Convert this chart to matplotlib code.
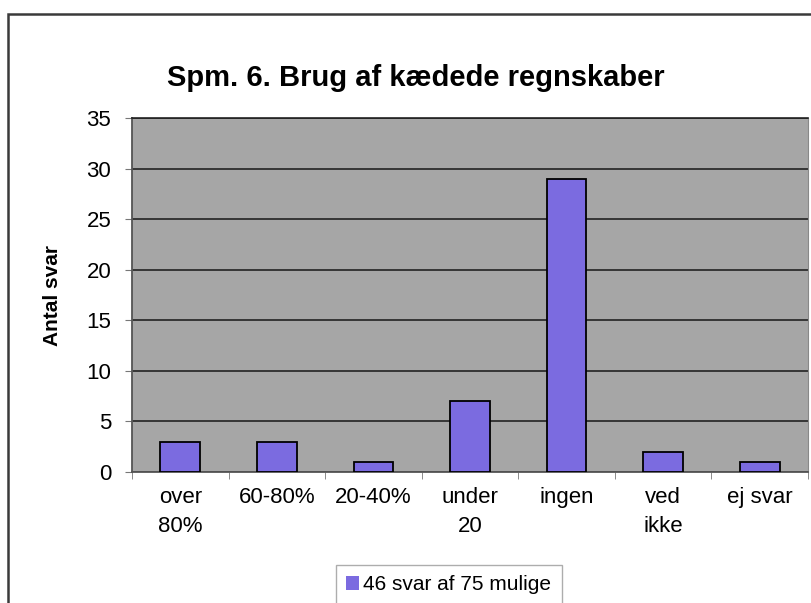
import numpy as np
import matplotlib.pyplot as plt
from matplotlib.patches import Rectangle

categories = ["over\n80%", "60-80%", "20-40%", "under\n20", "ingen", "ved\nikke", "ej svar"]
values = [3, 3, 1, 7, 29, 2, 1]
series_name = "46 svar af 75 mulige"
title = "Spm. 6. Brug af kædede regnskaber"
y_label = "Antal svar"

plt.rcParams['font.family'] = ['Liberation Sans', 'DejaVu Sans']

fig = plt.figure(figsize=(8.12, 6.03), dpi=100)
fig.patch.set_facecolor("white")

# outer chart border (cut at right/bottom like the scan)
fig.patches.append(Rectangle((8 / 812, -0.1), 1.2, 1 - 14 / 603 + 0.1,
                             transform=fig.transFigure, fill=False,
                             edgecolor="#3a3a3a", linewidth=1.8))

ax = fig.add_axes((132 / 812, 131 / 603, 676 / 812, 354 / 603))
ax.set_facecolor("#a6a6a6")

x = np.arange(len(categories))
ax.bar(x, values, width=0.41, color="#7b6be0", edgecolor="black",
       linewidth=1.3, label=series_name, zorder=3)

ax.set_xlim(-0.5, len(categories) - 0.5)
ax.set_ylim(0, 35)
ax.set_yticks(range(0, 36, 5))
ax.yaxis.grid(True, color="#222222", linewidth=1.2, zorder=1)
ax.set_axisbelow(True)

ax.set_xticks(x)
ax.set_xticklabels(categories, fontsize=16, linespacing=1.5)
ax.tick_params(axis="x", length=0, pad=11)
ax.set_xticks(np.arange(-0.5, len(categories)), minor=True)
ax.tick_params(axis="x", which="minor", length=5, color="#777777")
ax.tick_params(axis="y", labelsize=16, length=5, color="#777777", pad=10)

for s in ["left", "bottom"]:
    ax.spines[s].set_color("#555555")
    ax.spines[s].set_linewidth(1.3)
ax.spines["top"].set_color("#222222")
ax.spines["top"].set_linewidth(1.2)
ax.spines["right"].set_color("#888888")

fig.text(52 / 812, 1 - 295 / 603, y_label, rotation=90, ha="center",
         va="center", fontsize=15, fontweight="bold")

fig.text(416 / 812, 1 - 86 / 603, title, ha="center", va="baseline",
         fontsize=21, fontweight="bold")

leg = fig.legend(loc="upper left", bbox_to_anchor=(336 / 812, 1 - 565 / 603),
                 fontsize=15, frameon=True, fancybox=False, handlelength=0.6,
                 handleheight=0.7, handletextpad=0.2, borderpad=0.5,
                 borderaxespad=0)
leg.get_frame().set_edgecolor("#999999")
leg.get_frame().set_linewidth(1.0)
for h in leg.legend_handles:
    h.set_edgecolor("none")

fig.savefig("out.png", dpi=100)
